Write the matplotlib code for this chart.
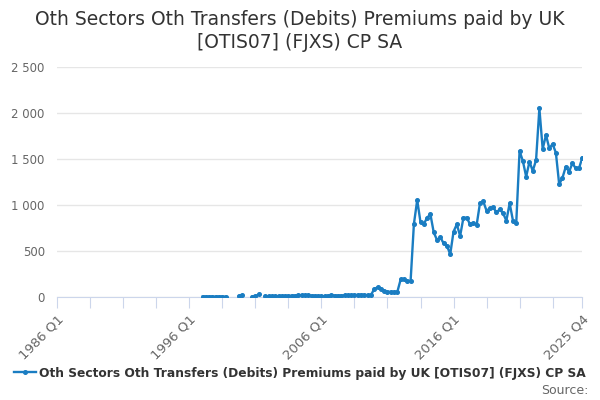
import numpy as np
import matplotlib
matplotlib.use("Agg")
import matplotlib.pyplot as plt
from matplotlib.lines import Line2D
from matplotlib.ticker import FuncFormatter

title = "Oth Sectors Oth Transfers (Debits) Premiums paid by UK\n[OTIS07] (FJXS) CP SA"
series_name = "Oth Sectors Oth Transfers (Debits) Premiums paid by UK [OTIS07] (FJXS) CP SA"

# quarterly categories 1986 Q1 .. 2025 Q4
quarters = [f"{y} Q{q}" for y in range(1986, 2026) for q in range(1, 5)]

# values (None = no data)
early = [None] * 44
v_1997 = [5, 5, 5, 5, 5, 5, 5, 5, None, None, None, 12, 20, None, None, 4, 8, 28, None]
v_2001 = [8, 8, 10, 10, 10, 12, 12, 12, 15, 15, 18, 20, 20, 18, 16, 14, 12,
          10, 8, 15, 18, 16, 15, 16, 18, 20, 20, 22, 22, 25, 22, 20, 22]
v_2010 = [87, 105, 84, 68, 58, 55, 55, 58, 192, 192, 174, 174, 793, 1054,
          812, 793, 862, 899, 703, 620, 649, 583, 558, 464, 710, 790, 663,
          862, 862, 790, 801, 783, 1018, 1040, 938, 964, 975, 920, 953, 910,
          830, 1018, 830, 808]
v_2021 = [1587, 1478, 1308, 1471, 1370, 1489, 2051, 1609, 1761, 1616, 1663,
          1568, 1225, 1297, 1416, 1362, 1453, 1399, 1399, 1514]
values = early + v_1997 + v_2001 + v_2010 + v_2021

tick_pos = list(range(0, 160, 10)) + [159]
label_pos = {0: "1986 Q1", 40: "1996 Q1", 80: "2006 Q1", 120: "2016 Q1", 159: "2025 Q4"}

color = "#1a7dc2"
grey = "#666666"

y = np.array([np.nan if v is None else v for v in values], dtype=float)
x = np.arange(len(quarters))

fig = plt.figure(figsize=(6, 4), dpi=100)
ax = fig.add_axes([0.0955, 0.2575, 0.875, 0.575])

ax.plot(x, y, color=color, lw=1.7, marker="o", ms=2.6, zorder=3)

ax.set_xlim(0, 159)
ax.set_ylim(0, 2500)
ax.set_yticks([0, 500, 1000, 1500, 2000, 2500])
ax.yaxis.set_major_formatter(FuncFormatter(lambda v, p: f"{int(v):,}".replace(",", " ")))
ax.grid(axis="y", color="#e6e6e6", lw=1)
ax.set_axisbelow(True)

ax.set_xticks(tick_pos)
ax.set_xticklabels([label_pos.get(t, "") for t in tick_pos], rotation=45,
                   ha="right", rotation_mode="anchor")

for s in ["top", "right", "left"]:
    ax.spines[s].set_visible(False)
ax.spines["bottom"].set_color("#ccd6eb")
ax.tick_params(axis="x", length=8, color="#ccd6eb", labelsize=9.5, labelcolor=grey, pad=3)
ax.tick_params(axis="y", length=0, labelsize=8.5, labelcolor=grey, pad=9)

fig.suptitle(title, fontsize=13.5, color="#333333", y=0.975, va="top", linespacing=1.25)

handle = Line2D([0], [0], color=color, lw=1.7, marker="o", ms=2.6)
fig.legend([handle], [series_name], loc="center", bbox_to_anchor=(0.5, 0.067),
           frameon=False, prop={"weight": "bold", "size": 8.8}, handlelength=1.8,
           handletextpad=0.3, labelcolor="#333333")
fig.text(0.98, 0.025, "Source:", ha="right", va="center", fontsize=9, color=grey)

fig.savefig("out.png", dpi=100)
